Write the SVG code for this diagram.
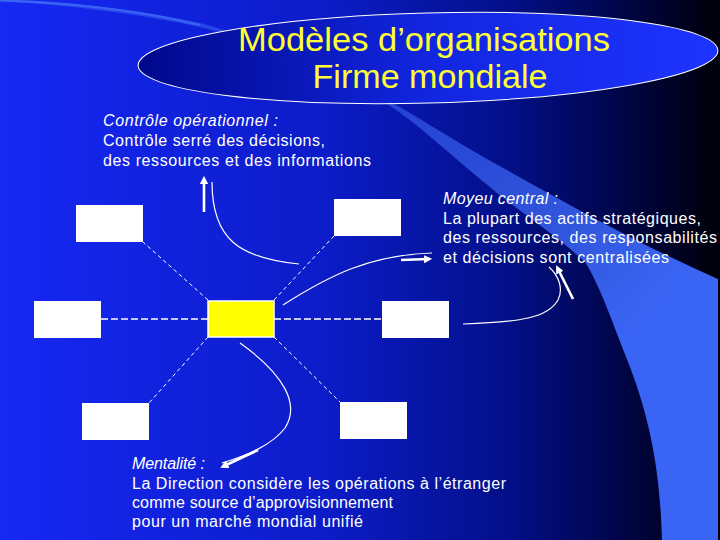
<svg xmlns="http://www.w3.org/2000/svg" width="720" height="540" viewBox="0 0 720 540">
<defs>
<linearGradient id="bg" x1="0" y1="0" x2="1" y2="0">
<stop offset="0" stop-color="#1628f4"/>
<stop offset="0.45" stop-color="#0c1cc8"/>
<stop offset="0.7" stop-color="#03108a"/>
<stop offset="0.86" stop-color="#000548"/>
<stop offset="1" stop-color="#000008"/>
</linearGradient>
<linearGradient id="ell" x1="0" y1="0" x2="1" y2="0">
<stop offset="0" stop-color="#00088a"/>
<stop offset="0.5" stop-color="#1226e0"/>
<stop offset="1" stop-color="#1e34ff"/>
</linearGradient>
<linearGradient id="band" gradientUnits="userSpaceOnUse" x1="380" y1="100" x2="640" y2="320">
<stop offset="0" stop-color="#3a64f4" stop-opacity="0.55"/>
<stop offset="1" stop-color="#3a64f4" stop-opacity="1"/>
</linearGradient>
<marker id="ah" viewBox="0 0 10 10" refX="5" refY="5" markerWidth="3.2" markerHeight="3.2" orient="auto">
<path d="M0,0 L10,5 L0,10 z" fill="#fff"/>
</marker>
<style>
.box{fill:#fff}
.dash{stroke:#fff;stroke-width:1;stroke-dasharray:4 3;fill:none}
.hdash{stroke:#fff;stroke-width:1.5;stroke-dasharray:7 3;fill:none}
.curve{stroke:#fff;stroke-width:1.2;fill:none}
.arr{stroke:#fff;stroke-width:2.6;fill:none;marker-end:url(#ah)}
.t{font-family:"Liberation Sans",Arial,sans-serif;font-size:16px;fill:#fff}
.i{font-style:italic}
.title{font-family:"Liberation Sans",Arial,sans-serif;font-size:33px;fill:#ffff33;text-anchor:middle}
</style>
</defs>
<rect width="720" height="540" fill="url(#bg)"/>
<path d="M0,0.5 C80,3 150,13 200,25" stroke="#3a64f4" stroke-width="2" fill="none"/>
<path d="M0,-1 C80,2 150,12 200,23 C280,45 340,75 387,100 C420,118 450,138 480,155 C560,200 640,245 720,280 L718,540 L662,540 C660,470 650,420 630,367 C615,330 600,285 585,262 C550,230 510,205 490,187 C450,155 420,125 387,104 C330,70 270,44 200,27 C140,14 70,5 0,1 Z" fill="url(#band)"/>
<rect x="718" y="0" width="2" height="540" fill="#000010"/>
<g id="title">
<ellipse cx="428" cy="58" rx="290" ry="45" transform="rotate(-1.5 428 58)" fill="url(#ell)" stroke="#fff" stroke-width="1"/>
<text class="title" x="424" y="51" textLength="372" lengthAdjust="spacingAndGlyphs">Modèles d’organisations</text>
<text class="title" x="430" y="88" textLength="235" lengthAdjust="spacingAndGlyphs">Firme mondiale</text>
</g>
<g id="connectors">
<line class="hdash" x1="101" y1="319" x2="208" y2="319"/>
<line class="hdash" x1="274" y1="319" x2="382" y2="319"/>
<line class="dash" x1="208" y1="300" x2="143" y2="242"/>
<line class="dash" x1="274" y1="300" x2="334" y2="236"/>
<line class="dash" x1="208" y1="337" x2="149" y2="403"/>
<line class="dash" x1="274" y1="337" x2="340" y2="402"/>
<path class="curve" d="M299,264 C240,258 212,240 212,182"/>
<path class="arr" d="M204,212 L204,180"/>
<path class="curve" d="M283,305 C330,275 370,255 432,253"/>
<path class="arr" d="M401,260 L428,259"/>
<path class="curve" d="M240,343 C285,375 300,405 285,428 C272,445 248,455 222,463"/>
<path class="arr" d="M258,450 L224,466"/>
<path class="curve" d="M463,324 C520,322 548,318 558,300 C564,288 558,275 549,267"/>
<path class="arr" d="M573,299 L558,269"/>
</g>
<g id="n-topleft"><rect class="box" x="76" y="205" width="67" height="37"/></g>
<g id="n-topright"><rect class="box" x="334" y="199" width="67" height="37"/></g>
<g id="n-left"><rect class="box" x="34" y="301" width="67" height="37"/></g>
<g id="n-center"><rect x="208" y="301" width="66" height="36" fill="#ffff00" stroke="#fff" stroke-width="1.5"/></g>
<g id="n-right"><rect class="box" x="382" y="301" width="67" height="37"/></g>
<g id="n-bottomleft"><rect class="box" x="82" y="403" width="67" height="37"/></g>
<g id="n-bottomright"><rect class="box" x="340" y="402" width="67" height="37"/></g>
<g id="label-controle">
<text class="t i" x="103" y="126" textLength="175" lengthAdjust="spacing">Contrôle opérationnel :</text>
<text class="t" x="103" y="146" textLength="222" lengthAdjust="spacing">Contrôle serré des décisions,</text>
<text class="t" x="103" y="166" textLength="268" lengthAdjust="spacing">des ressources et des informations</text>
</g>
<g id="label-moyeu">
<text class="t i" x="443" y="204" textLength="115" lengthAdjust="spacing">Moyeu central :</text>
<text class="t" x="443" y="224" textLength="258" lengthAdjust="spacing">La plupart des actifs stratégiques,</text>
<text class="t" x="443" y="243" textLength="274" lengthAdjust="spacing">des ressources, des responsabilités</text>
<text class="t" x="443" y="263" textLength="226" lengthAdjust="spacing">et décisions sont centralisées</text>
</g>
<g id="label-mentalite">
<text class="t i" x="132" y="469" textLength="73" lengthAdjust="spacing">Mentalité :</text>
<text class="t" x="132" y="489" textLength="374" lengthAdjust="spacing">La Direction considère les opérations à l’étranger</text>
<text class="t" x="132" y="508" textLength="261" lengthAdjust="spacing">comme source d’approvisionnement</text>
<text class="t" x="132" y="527" textLength="231" lengthAdjust="spacing">pour un marché mondial unifié</text>
</g>
</svg>
